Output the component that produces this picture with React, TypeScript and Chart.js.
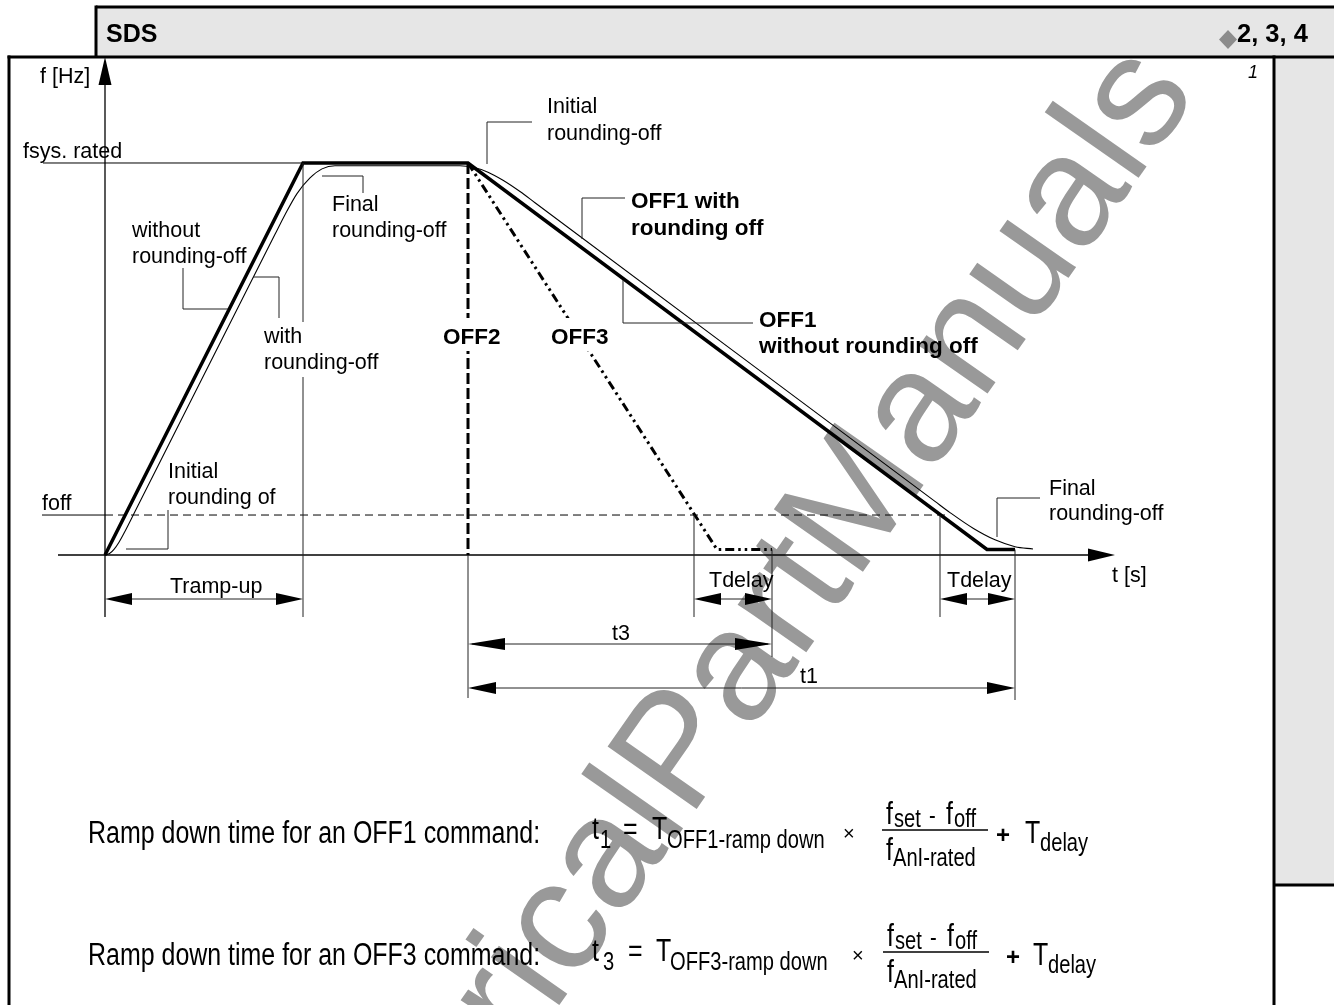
import React, { useEffect, useRef } from 'react';
import { Chart, registerables } from 'chart.js';

Chart.register(...registerables);

// ---------------- data (t in s, f in Hz) ----------------
// OFF1 without rounding-off (thick line): ramp-up, f rated, OFF1 ramp-down, delay
const noRoundT = [0, 1.98, 3.63, 8.82, 9.1];
const noRoundF = [0, 50, 50, 0.7, 0.7];
// with rounding-off (thin line)
const roundT = [0, 0.045, 0.09, 0.14, 0.195, 0.3, 1.7, 1.8, 1.92, 2.05, 2.17, 2.3, 2.6, 3.55, 3.68, 3.83, 3.98, 4.15, 4.3, 8.3, 8.45, 8.685, 8.9, 9.1, 9.28];
const roundF = [0, 0.18, 0.72, 1.63, 2.9, 5.55, 40.9, 43.4, 46.1, 48.1, 49.25, 49.65, 49.65, 49.65, 49.45, 48.83, 47.8, 46.36, 44.93, 6.84, 5.41, 3.38, 1.93, 1.06, 0.77];
// OFF2 (immediate pulse disable)
const off2T = [3.63, 3.63];
const off2F = [50, 0];
// OFF3 (fast ramp-down)
const off3T = [3.63, 6.12, 6.67];
const off3F = [50, 0.7, 0.7];
// reference levels
const fRatedT = [-0.62, 1.98];
const fRatedF = [50, 50];
const fOffLeadT = [-0.63, 0];
const fOffT = [0, 8.4];
const fOffF = [5.1, 5.1];

// dimension lines (from, to in s)
const dimNames = ['Tramp-up', 'Tdelay', 'Tdelay', 't3', 't1'];
const dimFrom = [0, 5.89, 8.35, 3.63, 3.63];
const dimTo = [1.98, 6.67, 9.1, 6.67, 9.1];

// ---------------- layout / style ----------------
const W = 1334;
const H = 1005;
const FF = "'Liberation Sans', Arial, Helvetica, sans-serif";
const fm = (s: number, bold = false, italic = false) => `${italic ? 'italic ' : ''}${bold ? 'bold ' : ''}${s}px ${FF}`;
const SX = 0.805;

const pts = (t: number[], f: number[]) => t.map((x, i) => ({ x, y: f[i] }));

function drawText(ctx: CanvasRenderingContext2D, text: string, x: number, y: number, font: string, sx = 1, align: 'left' | 'center' | 'right' = 'left', color = '#000') {
  ctx.save();
  ctx.font = font;
  ctx.fillStyle = color;
  ctx.textBaseline = 'alphabetic';
  ctx.textAlign = 'left';
  const w = ctx.measureText(text).width * sx;
  let ox = x;
  if (align === 'center') ox = x - w / 2;
  else if (align === 'right') ox = x - w;
  ctx.translate(ox, y);
  ctx.scale(sx, 1);
  ctx.fillText(text, 0, 0);
  ctx.restore();
  return w;
}

function line(ctx: CanvasRenderingContext2D, p: number[][], width = 1, color = '#000', dash: number[] = []) {
  ctx.save();
  ctx.beginPath();
  ctx.strokeStyle = color;
  ctx.lineWidth = width;
  ctx.setLineDash(dash);
  ctx.moveTo(p[0][0], p[0][1]);
  for (let i = 1; i < p.length; i++) ctx.lineTo(p[i][0], p[i][1]);
  ctx.stroke();
  ctx.restore();
}

function arrow(ctx: CanvasRenderingContext2D, tx: number, ty: number, dir: 'left' | 'right' | 'up', len: number, half: number) {
  ctx.save();
  ctx.beginPath();
  ctx.fillStyle = '#000';
  if (dir === 'right') {
    ctx.moveTo(tx, ty); ctx.lineTo(tx - len, ty - half); ctx.lineTo(tx - len, ty + half);
  } else if (dir === 'left') {
    ctx.moveTo(tx, ty); ctx.lineTo(tx + len, ty - half); ctx.lineTo(tx + len, ty + half);
  } else {
    ctx.moveTo(tx, ty); ctx.lineTo(tx - half, ty + len); ctx.lineTo(tx + half, ty + len);
  }
  ctx.closePath();
  ctx.fill();
  ctx.restore();
}

function drawFrame(ctx: CanvasRenderingContext2D) {
  ctx.save();
  ctx.fillStyle = '#fff';
  ctx.fillRect(0, 0, W, H);
  ctx.fillStyle = '#e6e6e6';
  ctx.fillRect(96, 7, W - 96, 50);
  ctx.fillRect(1274, 57, W - 1274, 828);
  ctx.restore();
  line(ctx, [[96, 7], [W, 7]], 3);
  line(ctx, [[96, 5.5], [96, 57]], 3);
  line(ctx, [[7.5, 57], [W, 57]], 3);
  line(ctx, [[9, 55.5], [9, H]], 3);
  line(ctx, [[1274, 55.5], [1274, H]], 3);
  line(ctx, [[1274, 885], [W, 885]], 3);
  drawText(ctx, 'SDS', 106, 42, fm(25, true));
  drawText(ctx, '2, 3, 4', 1237, 42, fm(25.5, true));
  ctx.save();
  ctx.fillStyle = '#8c8c8c';
  ctx.beginPath();
  ctx.moveTo(1228, 30); ctx.lineTo(1237, 39.5); ctx.lineTo(1228, 49); ctx.lineTo(1219, 39.5);
  ctx.closePath();
  ctx.fill();
  ctx.restore();
  drawText(ctx, '1', 1248, 78, fm(18, false, true));
}

function drawWatermark(ctx: CanvasRenderingContext2D) {
  ctx.save();
  ctx.translate(1198, 93);
  ctx.rotate((-55 * Math.PI) / 180);
  ctx.font = fm(158);
  ctx.fillStyle = '#999999';
  ctx.textAlign = 'right';
  ctx.textBaseline = 'alphabetic';
  ctx.fillText('ElectricalPartManuals', 0, 0);
  ctx.restore();
}

function drawAxes(chart: any) {
  const ctx: CanvasRenderingContext2D = chart.ctx;
  const xs = chart.scales.x;
  const ys = chart.scales.y;
  const X0 = xs.getPixelForValue(0);
  const Y0 = ys.getPixelForValue(0);
  line(ctx, [[58, Y0], [1092, Y0]], 1.3);
  arrow(ctx, xs.right, Y0, 'right', 27, 6.5);
  line(ctx, [[X0, 617], [X0, ys.top + 26]], 1.3);
  arrow(ctx, X0, ys.top, 'up', 28, 6.5);
}

function drawAnnotations(chart: any) {
  const ctx: CanvasRenderingContext2D = chart.ctx;
  const xs = chart.scales.x;
  const ys = chart.scales.y;
  const px = (t: number) => xs.getPixelForValue(t);
  const py = (f: number) => ys.getPixelForValue(f);
  const ext = '#222';

  // extension lines
  line(ctx, [[px(1.98), py(50)], [px(1.98), 322]], 1, ext);
  line(ctx, [[px(1.98), 377], [px(1.98), 617]], 1, ext);
  line(ctx, [[px(3.63), py(0)], [px(3.63), 698]], 1, ext);
  line(ctx, [[px(5.89), py(5.1)], [px(5.89), 617]], 1, ext);
  line(ctx, [[px(6.67), py(0.7)], [px(6.67), 657]], 1, ext);
  line(ctx, [[px(8.35), py(5.1)], [px(8.35), 617]], 1, ext);
  line(ctx, [[px(9.1), py(0.7)], [px(9.1), 700]], 1, ext);

  // dimension lines
  const dimY = [599, 599, 599, 644, 688];
  const dimLen = [27, 27, 27, 37, 28];
  dimNames.forEach((_, i) => {
    const a = px(dimFrom[i]);
    const b = px(dimTo[i]);
    const y = dimY[i];
    line(ctx, [[a + 4, y], [b - 4, y]], 1, ext);
    arrow(ctx, a, y, 'left', dimLen[i], 6);
    arrow(ctx, b, y, 'right', dimLen[i], 6);
  });

  // leader lines
  const leaders = [
    [[183, 268], [183, 309], [228, 309]],
    [[253, 277], [279, 277], [279, 318]],
    [[322, 176], [363, 176], [363, 193]],
    [[532, 122], [487, 122], [487, 164]],
    [[625, 198], [582, 198], [582, 239]],
    [[753, 323], [623, 323], [623, 280]],
    [[168, 510], [168, 549], [126, 549]],
    [[1040, 498], [997, 498], [997, 537]],
  ];
  leaders.forEach((l) => line(ctx, l, 1, '#222'));

  // white boxes behind OFF2 / OFF3 labels (they interrupt the lines)
  ctx.save();
  ctx.fillStyle = '#fff';
  ctx.fillRect(443, 318, 58, 33);
  ctx.fillRect(551, 318, 58, 33);
  ctx.restore();

  // labels
  const N = fm(21.5);
  const B = fm(22.5, true);
  const labels: [string, number, number, string][] = [
    ['f [Hz]', 40, 83, N],
    ['fsys. rated', 23, 158, N],
    ['without', 132, 237, N],
    ['rounding-off', 132, 263, N],
    ['with', 264, 343, N],
    ['rounding-off', 264, 369, N],
    ['Final', 332, 211, N],
    ['rounding-off', 332, 237, N],
    ['Initial', 547, 113, N],
    ['rounding-off', 547, 140, N],
    ['Initial', 168, 478, N],
    ['rounding of', 168, 504, N],
    ['foff', 42, 510, N],
    ['Tramp-up', 170, 593, N],
    ['Tdelay', 709, 587, N],
    ['Tdelay', 947, 587, N],
    ['t3', 612, 640, N],
    ['t1', 800, 683, N],
    ['Final', 1049, 495, N],
    ['rounding-off', 1049, 520, N],
    ['t [s]', 1112, 582, N],
    ['OFF1 with', 631, 208, B],
    ['rounding off', 631, 235, B],
    ['OFF1', 759, 327, B],
    ['without rounding off', 759, 353, B],
    ['OFF2', 443, 344, B],
    ['OFF3', 551, 344, B],
  ];
  labels.forEach(([t, x, y, f]) => drawText(ctx, t, x, y, f));
}

function drawFormula(ctx: CanvasRenderingContext2D, Bt: number, cmd: string, sub: string, off: number[]) {
  // off: [subIdxX, eqX, TX, subX, timesX, fracX, plusX, T2X]
  const [s1, eq, T1, sb, tm, fr, pl, T2] = off;
  const M = fm(31);
  const S = fm(25);
  drawText(ctx, `Ramp down time for an ${cmd} command:`, 88, Bt, M, SX);
  drawText(ctx, 't', 592, Bt - 4, M, SX);
  drawText(ctx, cmd.slice(-1), s1, Bt + 5, S, SX);
  drawText(ctx, '=', eq, Bt - 4, M, SX);
  drawText(ctx, 'T', T1, Bt - 4, M, SX);
  drawText(ctx, sub, sb, Bt + 5, S, SX);
  drawText(ctx, '\u00d7', tm, Bt - 3, fm(20));
  // fraction
  drawText(ctx, 'f', fr + 4, Bt - 19, M, SX);
  drawText(ctx, 'set', fr + 12, Bt - 16, S, SX);
  drawText(ctx, '-', fr + 47, Bt - 19, S, SX);
  drawText(ctx, 'f', fr + 64, Bt - 19, M, SX);
  drawText(ctx, 'off', fr + 72, Bt - 16, S, SX);
  line(ctx, [[fr, Bt - 13], [fr + 106, Bt - 13]], 1.3);
  drawText(ctx, 'f', fr + 4, Bt + 17, M, SX);
  drawText(ctx, 'AnI-rated', fr + 11, Bt + 23, S, SX);
  drawText(ctx, '+', pl, Bt, fm(24, true));
  drawText(ctx, 'T', T2, Bt, M, SX);
  drawText(ctx, 'delay', T2 + 15, Bt + 8, S, SX);
}

const diagramPlugin = {
  id: 'sdsDiagram',
  beforeDraw(chart: any) {
    drawFrame(chart.ctx);
    drawWatermark(chart.ctx);
  },
  beforeDatasetsDraw(chart: any) {
    drawAxes(chart);
  },
  afterDatasetsDraw(chart: any) {
    drawAnnotations(chart);
    drawFormula(chart.ctx, 843, 'OFF1', 'OFF1-ramp down', [600, 623, 652, 667, 843, 882, 996, 1025]);
    drawFormula(chart.ctx, 965, 'OFF3', 'OFF3-ramp down', [603, 628, 656, 670, 852, 883, 1006, 1033]);
  },
};

export default function App() {
  const ref = useRef<HTMLCanvasElement | null>(null);
  useEffect(() => {
    if (!ref.current) return;
    const base = { pointRadius: 0, fill: false, clip: false as any, tension: 0, borderColor: '#000' };
    const chart = new Chart(ref.current, {
      type: 'line',
      data: {
        datasets: [
          { ...base, label: 'fsys. rated', data: pts(fRatedT, fRatedF), borderWidth: 1 },
          { ...base, label: 'foff lead', data: pts(fOffLeadT, fOffF), borderWidth: 1 },
          { ...base, label: 'foff', data: pts(fOffT, fOffF), borderWidth: 1, borderDash: [8, 5] },
          { ...base, label: 'with rounding-off', data: pts(roundT, roundF), borderWidth: 1.1, cubicInterpolationMode: 'monotone' },
          { ...base, label: 'OFF2', data: pts(off2T, off2F), borderWidth: 3, borderDash: [11, 4] },
          { ...base, label: 'OFF3', data: pts(off3T, off3F), borderWidth: 3, borderDash: [9, 4, 2.5, 4, 2.5, 4] },
          { ...base, label: 'without rounding-off', data: pts(noRoundT, noRoundF), borderWidth: 3.5, borderJoinStyle: 'miter' },
        ] as any,
      },
      options: {
        animation: false,
        responsive: false,
        devicePixelRatio: 1,
        events: [],
        layout: { padding: { left: 105, right: W - 1115, top: 57, bottom: H - 555 } },
        scales: {
          x: { type: 'linear', min: 0, max: 10.1, display: false },
          y: { type: 'linear', min: 0, max: 63.52, display: false },
        },
        plugins: { legend: { display: false }, tooltip: { enabled: false }, title: { display: false } },
      },
      plugins: [diagramPlugin],
    });
    return () => chart.destroy();
  }, []);
  return (
    <div style={{ position: 'absolute', left: 0, top: 0, width: W, height: H }}>
      <canvas ref={ref} width={W} height={H} style={{ width: W, height: H, display: 'block' }} />
    </div>
  );
}
